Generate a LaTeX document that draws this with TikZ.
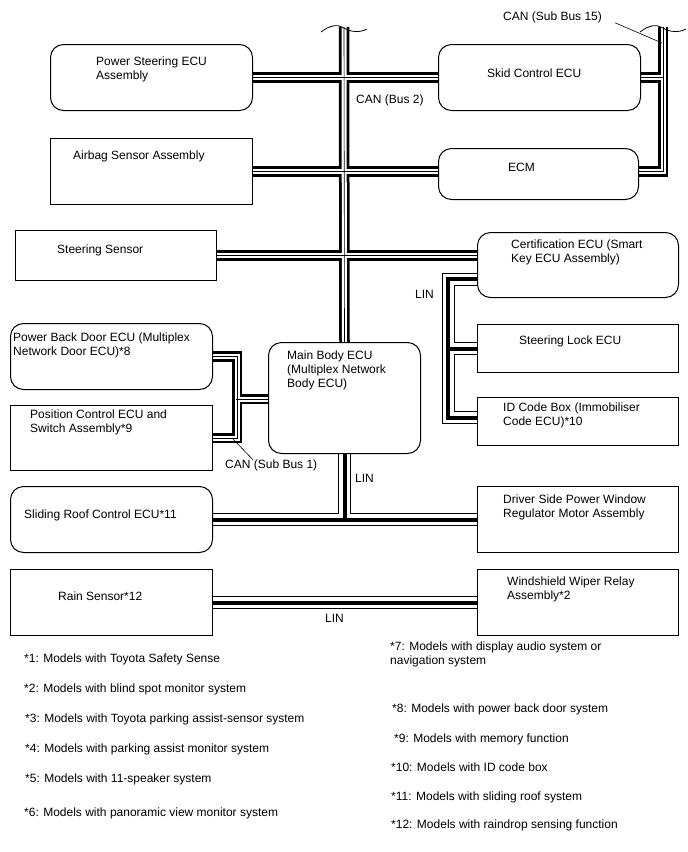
\documentclass[tikz,border=0pt]{standalone}
\usepackage{fontspec}
\setmainfont{Liberation Sans}
\usetikzlibrary{positioning,backgrounds}

\tikzset{
  ecu/.style={draw, line width=1pt, rounded corners=13pt, inner sep=0pt, anchor=north west},
  unit/.style={draw, line width=1pt, inner sep=0pt, anchor=north west},
  lbl/.style={inner sep=0pt, anchor=north west, align=left, font=\fontsize{12}{13.8}\selectfont},
  canout/.style={line width=10.5pt},
  canin/.style={line width=5pt, white},
  cancore/.style={line width=0.6pt},
  linout/.style={line width=13pt},
  linin/.style={line width=11pt, white},
  lincore/.style={line width=4pt},
  leader/.style={line width=0.6pt}
}

\begin{document}
\begin{tikzpicture}[x=1pt,y=-1pt]
\useasboundingbox (0,0) rectangle (688,852);

% boxes
\node[ecu, minimum width=202pt, minimum height=66pt] (ps) at (50,44) {};
\node[unit, minimum width=202pt, minimum height=66pt] (ab) at (50,138) {};
\node[ecu, minimum width=202pt, minimum height=66pt] (sk) at (438,44) {};
\node[ecu, minimum width=200pt, minimum height=51pt] (ecm) at (438,148) {};
\node[unit, minimum width=201pt, minimum height=50pt] (ss) at (15,230) {};
\node[ecu, minimum width=201pt, minimum height=65pt] (ce) at (477,232) {};
\node[unit, minimum width=201pt, minimum height=48pt] (sl) at (477,324) {};
\node[unit, minimum width=201pt, minimum height=48pt] (idb) at (477,397) {};
\node[ecu, minimum width=202pt, minimum height=66pt] (pbd) at (10,323) {};
\node[unit, minimum width=202pt, minimum height=65pt] (pc) at (10,405) {};
\node[ecu, minimum width=152pt, minimum height=111pt] (mb) at (268,342) {};
\node[ecu, minimum width=202pt, minimum height=66pt] (sr) at (10,486) {};
\node[unit, minimum width=201pt, minimum height=66pt] (dw) at (477,486) {};
\node[unit, minimum width=202pt, minimum height=66pt] (rs) at (10,569) {};
\node[unit, minimum width=201pt, minimum height=66pt] (ww) at (477,569) {};

% box texts
\node[lbl, below right=13pt and 46pt of ps.north west] (pstxt) {Power Steering ECU\\Assembly};
\node[lbl, below right=13pt and 23pt of ab.north west] (abtxt) {Airbag Sensor Assembly};
\node[lbl, below right=25pt and 49pt of sk.north west] (sktxt) {Skid Control ECU};
\node[lbl, below right=15pt and 70pt of ecm.north west] (ecmtxt) {ECM};
\node[lbl, below right=15pt and 42pt of ss.north west] (sstxt) {Steering Sensor};
\node[lbl, below right=8pt and 34pt of ce.north west] (cetxt) {Certification ECU (Smart\\Key ECU Assembly)};
\node[lbl, below right=12pt and 42pt of sl.north west] (sltxt) {Steering Lock ECU};
\node[lbl, below right=6pt and 26pt of idb.north west] (idbtxt) {ID Code Box (Immobiliser\\Code ECU)*10};
\node[lbl, below right=10pt and 3pt of pbd.north west] (pbdtxt) {Power Back Door ECU (Multiplex\\Network Door ECU)*8};
\node[lbl, below right=5pt and 20pt of pc.north west] (pctxt) {Position Control ECU and\\Switch Assembly*9};
\node[lbl, below right=9pt and 19pt of mb.north west] (mbtxt) {Main Body ECU\\(Multiplex Network\\Body ECU)};
\node[lbl, below right=24pt and 14pt of sr.north west] (srtxt) {Sliding Roof Control ECU*11};
\node[lbl, below right=9pt and 26pt of dw.north west] (dwtxt) {Driver Side Power Window\\Regulator Motor Assembly};
\node[lbl, below right=23pt and 48pt of rs.north west] (rstxt) {Rain Sensor*12};
\node[lbl, below right=8pt and 30pt of ww.north west] (wwtxt) {Windshield Wiper Relay\\Assembly*2};

% bus ends
\coordinate (cantop) at (344,27);
\coordinate (s15top) at (663,27);
\coordinate (sb1) at (236,399);

% buses
\begin{scope}[on background layer]
\foreach \s in {canout,canin,cancore}{
  \draw[\s] (cantop) -- (mb.north);
  \draw[\s] (ps.east) -- (sk.west);
  \draw[\s] (ab.east) -- (ab.east -| ecm.west);
  \draw[\s] (ss.east) -- (ss.east -| ce.west);
  \draw[\s] (s15top) |- (ecm.east |- ab.east);
  \draw[\s] (sk.east) -- (sk.east -| s15top);
  \draw[\s] (pbd.east) -- ++(24,0) |- (pc.east);
  \draw[\s] (sb1) -- (sb1 -| mb.west);
}
\foreach \s in {linout,linin,lincore}{
  \draw[\s] (mb.south) -- (mb.south |- sr.east);
  \draw[\s] (sr.east) -- (dw.west);
  \draw[\s] ([yshift=-14pt]ce.west) -- ++(-29,0) |- ([yshift=4pt]idb.west);
  \draw[\s] (sl.west) -- ++(-29,0);
  \draw[\s] (rs.east) -- (ww.west);
}
\end{scope}

% cut marks
\draw[line width=0.8pt] (321,32) .. controls (330,25) and (338,24) .. (344,28) .. controls (350,32) and (360,33) .. (367,29);
\draw[line width=0.8pt] (640,32) .. controls (649,25) and (657,24) .. (663,28) .. controls (669,32) and (679,33) .. (686,29);

% bus labels
\node[lbl] (bus2) at (356,95) {CAN (Bus 2)};
\node[lbl] (sb15lbl) at (503,12) {CAN (Sub Bus 15)};
\node[lbl] (sb1lbl) at (225,460) {CAN (Sub Bus 1)};
\node[lbl] (lin1) at (415,290) {LIN};
\node[lbl] (lin2) at (355,474) {LIN};
\node[lbl] (lin3) at (325,614) {LIN};
\coordinate (s15pt) at (662,43);
\coordinate (sb1pt) at (233,439);
\draw[leader] (sb15lbl.east) ++(13,5) -- (s15pt);
\draw[leader] (sb1pt) -- ([xshift=-18pt]sb1lbl.north);

% notes
\node[lbl] (fn1) at (24,654) {*1: Models with Toyota Safety Sense};
\node[lbl] (fn2) at (24,684) {*2: Models with blind spot monitor system};
\node[lbl] (fn3) at (25,714) {*3: Models with Toyota parking assist-sensor system};
\node[lbl] (fn4) at (25,744) {*4: Models with parking assist monitor system};
\node[lbl] (fn5) at (25,774) {*5: Models with 11-speaker system};
\node[lbl] (fn6) at (24,808) {*6: Models with panoramic view monitor system};
\node[lbl] (fn7) at (390,642) {*7: Models with display audio system or\\navigation system};
\node[lbl] (fn8) at (392,704) {*8: Models with power back door system};
\node[lbl] (fn9) at (394,734) {*9: Models with memory function};
\node[lbl] (fn10) at (391,763) {*10: Models with ID code box};
\node[lbl] (fn11) at (391,792) {*11: Models with sliding roof system};
\node[lbl] (fn12) at (391,820) {*12: Models with raindrop sensing function};
\end{tikzpicture}
\end{document}
